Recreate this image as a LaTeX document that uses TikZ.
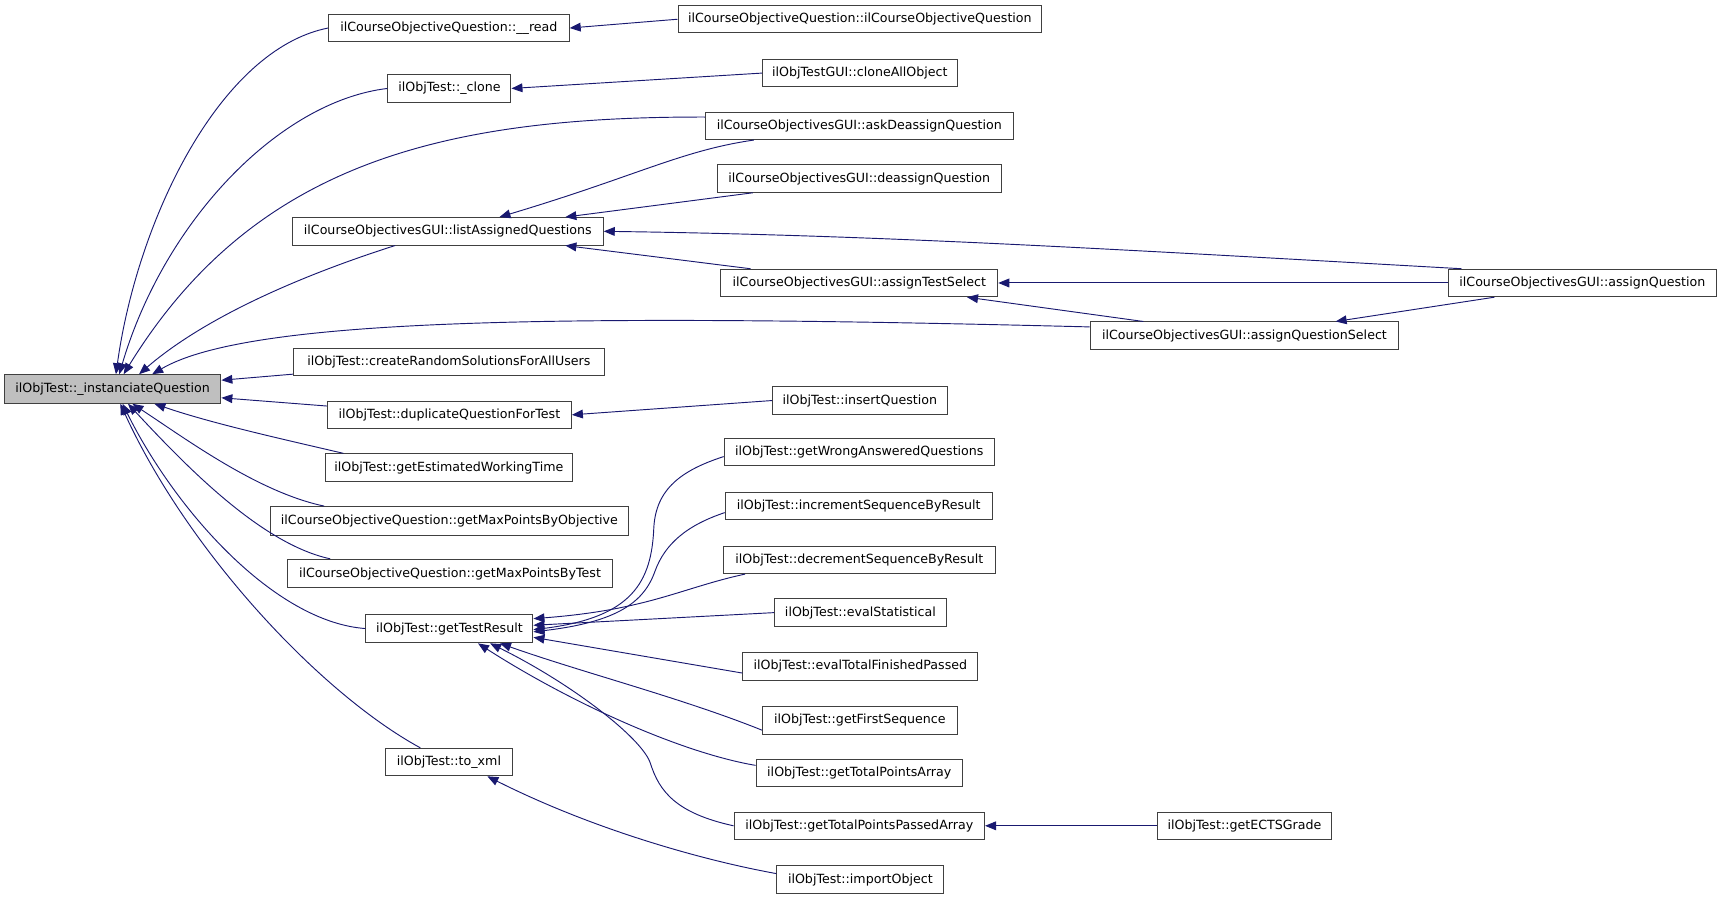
\documentclass[tikz,border=0pt]{standalone}
\usepackage{fontspec}
\setmainfont{DejaVu Sans}
\usetikzlibrary{arrows.meta}
\definecolor{edgec}{HTML}{191970}
\definecolor{boxc}{HTML}{404040}
\definecolor{instfill}{HTML}{BFBFBF}
\begin{document}
\begin{tikzpicture}[x=1pt,y=-1pt,
  fn/.style={draw=boxc, line width=0.9pt, fill=white, minimum height=25pt, inner sep=0pt,
    font=\fontsize{11.5}{13}\selectfont},
  edge/.style={draw=edgec, line width=0.85pt, -{Triangle[length=10pt,width=8pt]}}]
\useasboundingbox (0,0) rectangle (1568,820);

% nodes
\node[fn, fill=instfill, minimum width=197pt, minimum height=26pt] (inst) at (102.5,354) {ilObjTest::\_instanciateQuestion};
\node[fn, minimum width=219pt] (read) at (408.5,25.5) {ilCourseObjectiveQuestion::\_\_read};
\node[fn, minimum width=331pt] (ctor) at (782.5,17.5) {ilCourseObjectiveQuestion::ilCourseObjectiveQuestion};
\node[fn, minimum width=112pt] (clone) at (409,80.5) {ilObjTest::\_clone};
\node[fn, minimum width=177pt] (cloneAll) at (782.5,66.5) {ilObjTestGUI::cloneAllObject};
\node[fn, minimum width=280pt] (askDe) at (782,114.5) {ilCourseObjectivesGUI::askDeassignQuestion};
\node[fn, minimum width=258pt] (deassign) at (782,162.5) {ilCourseObjectivesGUI::deassignQuestion};
\node[fn, minimum width=283pt] (listAss) at (407.5,210.5) {ilCourseObjectivesGUI::listAssignedQuestions};
\node[fn, minimum width=252pt] (assignTS) at (782,257.5) {ilCourseObjectivesGUI::assignTestSelect};
\node[fn, minimum width=244pt] (assignQ) at (1440,257.5) {ilCourseObjectivesGUI::assignQuestion};
\node[fn, minimum width=281pt] (assignQS) at (1132.5,305.5) {ilCourseObjectivesGUI::assignQuestionSelect};
\node[fn, minimum width=283pt] (createRandom) at (408.5,329.5) {ilObjTest::createRandomSolutionsForAllUsers};
\node[fn, minimum width=222pt] (dup) at (409,377.5) {ilObjTest::duplicateQuestionForTest};
\node[fn, minimum width=159pt] (insertQ) at (782.5,364.5) {ilObjTest::insertQuestion};
\node[fn, minimum width=225pt] (estWT) at (408.5,425.5) {ilObjTest::getEstimatedWorkingTime};
\node[fn, minimum width=326pt, minimum height=26pt] (maxObj) at (409,474) {ilCourseObjectiveQuestion::getMaxPointsByObjective};
\node[fn, minimum width=295pt, minimum height=26pt] (maxTest) at (409.5,522) {ilCourseObjectiveQuestion::getMaxPointsByTest};
\node[fn, minimum width=152pt, minimum height=26pt] (getTR) at (409,572) {ilObjTest::getTestResult};
\node[fn, minimum width=115pt] (toxml) at (408.5,693.5) {ilObjTest::to\_xml};
\node[fn, minimum width=246pt] (wrongAns) at (782,411.5) {ilObjTest::getWrongAnsweredQuestions};
\node[fn, minimum width=243pt] (incSeq) at (781.5,460.5) {ilObjTest::incrementSequenceByResult};
\node[fn, minimum width=248pt] (decSeq) at (782,509.5) {ilObjTest::decrementSequenceByResult};
\node[fn, minimum width=156pt] (evalStat) at (783,557.5) {ilObjTest::evalStatistical};
\node[fn, minimum width=214pt] (evalTFP) at (783,606.5) {ilObjTest::evalTotalFinishedPassed};
\node[fn, minimum width=177pt] (firstSeq) at (782.5,655.5) {ilObjTest::getFirstSequence};
\node[fn, minimum width=188pt] (tpa) at (782,703.5) {ilObjTest::getTotalPointsArray};
\node[fn, minimum width=228pt] (tppa) at (782,751.5) {ilObjTest::getTotalPointsPassedArray};
\node[fn, minimum width=159pt] (ects) at (1132.5,751.5) {ilObjTest::getECTSGrade};
\node[fn, minimum width=152pt] (importObj) at (783,800.5) {ilObjTest::importObject};

% edges into inst (top)
\draw[edge] (read.west) .. controls (200,45) and (125,200) .. ([xshift=3pt]inst.north);
\draw[edge] (clone.west) .. controls (255,92) and (150,200) .. ([xshift=6pt]inst.north);
\draw[edge] ([yshift=8pt]askDe.west) .. controls (400,106) and (230,150) .. ([xshift=10pt]inst.north);
\draw[edge] ([xshift=-48pt]listAss.south) .. controls (270,252) and (185,290) .. ([xshift=24pt]inst.north);
\draw[edge] ([yshift=8pt]assignQS.west) .. controls (500,285) and (225,290) .. ([xshift=36pt]inst.north);
% edges into inst (side)
\draw[edge] ([yshift=-11pt]createRandom.west) -- ([yshift=8pt]inst.east);
\draw[edge] ([yshift=8pt]dup.west) -- ([yshift=-8pt]inst.east);
% edges into inst (bottom)
\draw[edge] ([xshift=-96pt]estWT.north) .. controls (250,398) and (192,385) .. ([xshift=38pt]inst.south);
\draw[edge] ([xshift=-114pt]maxObj.north) .. controls (235,448) and (170,400) .. ([xshift=18pt]inst.south);
\draw[edge] ([xshift=-109pt]maxTest.north) .. controls (238,495) and (170,425) .. ([xshift=14pt]inst.south);
\draw[edge] (getTR.west) .. controls (250,566) and (160,465) .. ([xshift=9pt]inst.south);
\draw[edge] ([xshift=-26pt]toxml.north) .. controls (290,630) and (170,500) .. ([xshift=7pt]inst.south);

% second level
\draw[edge] (ctor.west) -- (read.east);
\draw[edge] (cloneAll.west) -- (clone.east);
\draw[edge] ([xshift=-96pt]askDe.south) .. controls (620,137) and (580,160) .. ([xshift=47pt]listAss.north);
\draw[edge] ([xshift=-97pt]deassign.south) -- ([xshift=107pt]listAss.north);
\draw[edge] ([xshift=-110pt]assignQ.north) .. controls (1000,226) and (800,214) .. (listAss.east);
\draw[edge] ([xshift=-99pt]assignTS.north) -- ([xshift=107pt]listAss.south);
\draw[edge] (assignQ.west) -- (assignTS.east);
\draw[edge] ([xshift=-92pt]assignQS.north) -- ([xshift=98pt]assignTS.south);
\draw[edge] ([xshift=-80pt]assignQ.south) -- ([xshift=83pt]assignQS.north);
\draw[edge] (insertQ.west) -- (dup.east);

% into getTestResult
\draw[edge] ([yshift=-4pt]wrongAns.west) .. controls (620,428) and (597,445) .. (595,480)
  .. controls (593,530) and (575,562) .. ([yshift=-1pt]getTR.east);
\draw[edge] ([yshift=-6pt]incSeq.west) .. controls (625,478) and (605,495) .. (596,520)
  .. controls (586,548) and (562,566) .. ([yshift=-3pt]getTR.east);
\draw[edge] ([xshift=-104pt]decSeq.south) .. controls (620,535) and (590,555) .. ([yshift=9pt]getTR.east);
\draw[edge] (evalStat.west) -- ([yshift=3pt]getTR.east);
\draw[edge] ([yshift=-6pt]evalTFP.west) -- ([yshift=-8pt]getTR.east);
\draw[edge] ([yshift=-9pt]firstSeq.west) .. controls (620,635) and (530,612) .. ([xshift=46pt]getTR.south);
\draw[edge] ([yshift=7pt]tpa.west) .. controls (620,685) and (520,640) .. ([xshift=26pt]getTR.south);
\draw[edge] (tppa.west) .. controls (615,740) and (600,720) .. (592,695)
  .. controls (585,672) and (520,622) .. ([xshift=37pt]getTR.south);
\draw[edge] (ects.west) -- (tppa.east);
\draw[edge] ([yshift=5.5pt]importObj.west) .. controls (640,783) and (540,755) .. ([xshift=35pt]toxml.south);
\end{tikzpicture}
\end{document}
